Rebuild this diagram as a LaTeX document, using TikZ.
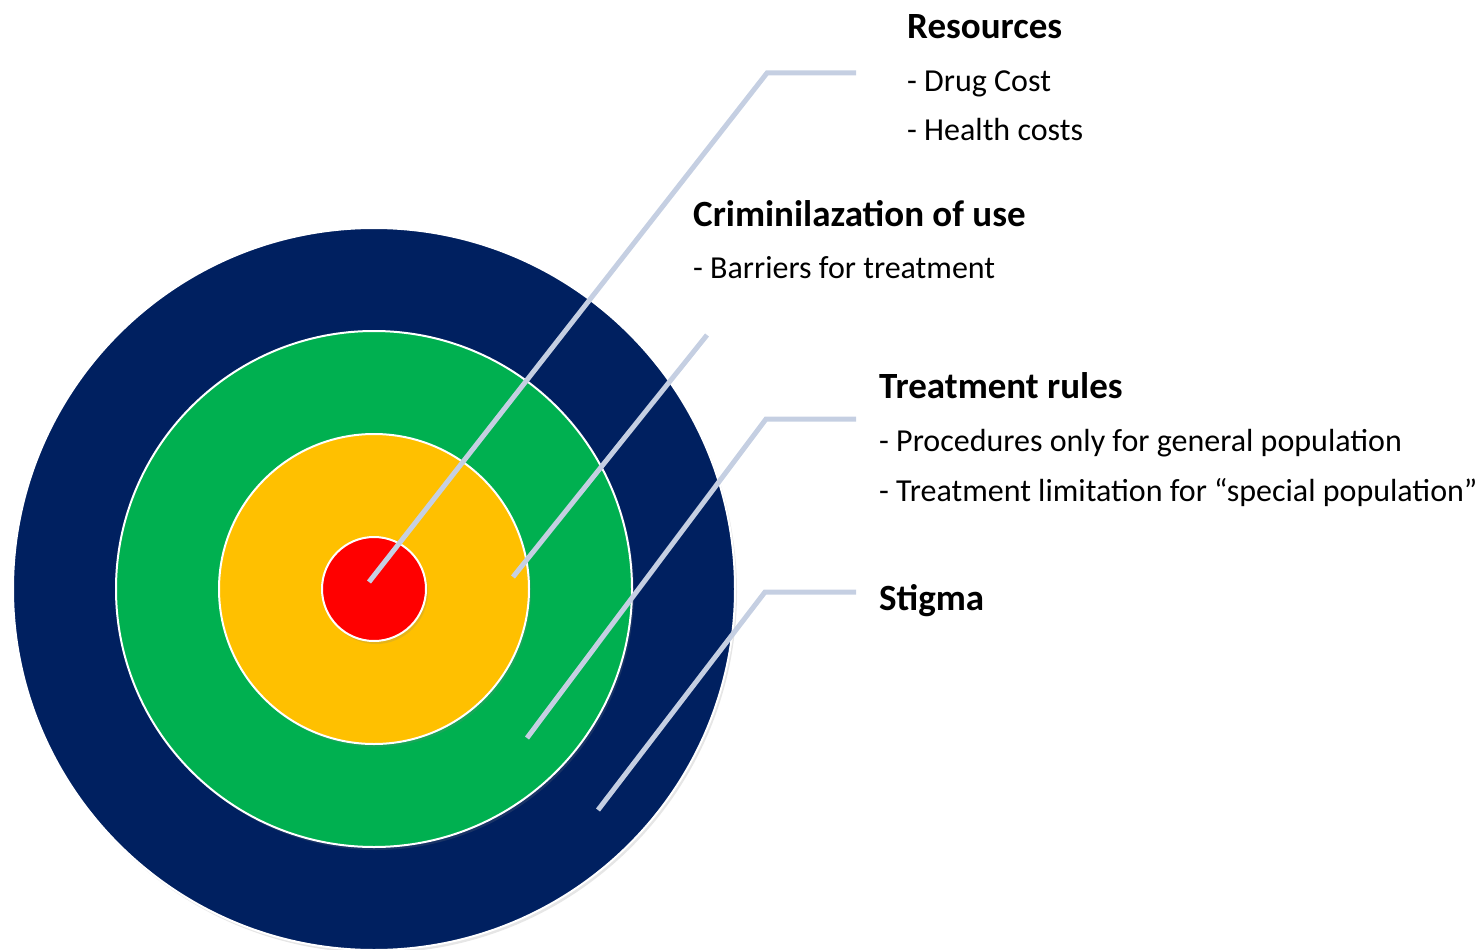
\documentclass[tikz,border=0pt]{standalone}
\usepackage{fontspec}
\setmainfont{Carlito}
\usetikzlibrary{shadows}
\definecolor{navy}{HTML}{002060}
\definecolor{grass}{HTML}{00B050}
\definecolor{amber}{HTML}{FFC000}
\definecolor{bullseye}{HTML}{FF0000}
\definecolor{leadcol}{HTML}{C5CFE2}

\begin{document}
\begin{tikzpicture}[x=1pt, y=-1pt,
    ring/.style={circle, draw=white, line width=2pt, inner sep=0pt,
      drop shadow={opacity=0.2, shadow xshift=2pt, shadow yshift=-3pt}},
    leader/.style={draw=leadcol, line width=5pt, line join=miter},
    head/.style={anchor=base west, inner sep=0pt, font=\fontsize{37}{44}\selectfont\bfseries},
    item/.style={anchor=base west, inner sep=0pt, font=\fontsize{32}{38}\selectfont}]
    \useasboundingbox (0,0) rectangle (1484,950);

    % Rings, outer to inner
    \node[ring, fill=navy, minimum size=722pt] (stigmaring) at (374,589) {};
    \node[ring, fill=grass, minimum size=516pt] (rulesring) at (374,589) {};
    \node[ring, fill=amber, minimum size=310pt] (crimring) at (374,589) {};
    \node[ring, fill=bullseye, minimum size=104pt] (resring) at (374,589) {};

    % Leader points
    \coordinate (resin) at (369,582);
    \coordinate (resbend) at (767,73);
    \coordinate (resend) at (856,73);
    \coordinate (crimin) at (513,577);
    \coordinate (crimend) at (707,335);
    \coordinate (rulesin) at (527,738);
    \coordinate (rulesbend) at (766,419);
    \coordinate (rulesend) at (856,419);
    \coordinate (stigin) at (598,810);
    \coordinate (stigbend) at (765,592);
    \coordinate (stigend) at (856,592);

    % Leaders
    \draw[leader] (resin) -- (resbend) -- (resend);
    \draw[leader] (crimin) -- (crimend);
    \draw[leader] (rulesin) -- (rulesbend) -- (rulesend);
    \draw[leader] (stigin) -- (stigbend) -- (stigend);

    % Labels
    \node[head] (res) at (907,39) {Resources};
    \node[item] (res1) at (907,92) {- Drug Cost};
    \node[item] (res2) at (907,140) {- Health costs};

    \node[head] (crim) at (693,226) {Criminilazation of use};
    \node[item] (crim1) at (693,278) {- Barriers for treatment};

    \node[head] (rules) at (879,398) {Treatment rules};
    \node[item] (rules1) at (879,451) {- Procedures only for general population};
    \node[item] (rules2) at (879,501) {- Treatment limitation for “special population”};

    \node[head] (stig) at (879,610) {Stigma};
\end{tikzpicture}
\end{document}
